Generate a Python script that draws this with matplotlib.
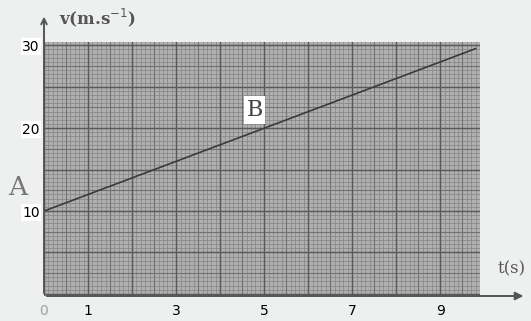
import matplotlib
matplotlib.use("Agg")
import matplotlib.pyplot as plt
import numpy as np

# Data
t_vals = [0.0, 9.8]
v_vals = [10.0, 29.6]
x_tick_vals = [0, 1, 3, 5, 7, 9]
x_tick_labels = ["0", "1", "3", "5", "7", "9"]
y_tick_vals = [10, 20, 30]
y_tick_labels = ["10", "20", "30"]

fig = plt.figure(figsize=(5.31, 3.21), dpi=100)
fig.patch.set_facecolor("#eef0f0")
ax = fig.add_axes([44/531, 1-296/321, (480-44)/531, (296-42)/321])
ax.set_facecolor("#b0b0b0")
xmax, ymin, ymax = 9.9, -0.25, 30.4
ax.set_xlim(0, xmax)
ax.set_ylim(ymin, ymax)

# graph paper grid
for x in np.arange(0, xmax, 0.1):
    ax.axvline(x, color="#8a8a8a", lw=0.6, zorder=0)
for y in np.arange(0, ymax, 0.5):
    ax.axhline(y, color="#8a8a8a", lw=0.6, zorder=0)
for x in np.arange(0, xmax, 0.5):
    ax.axvline(x, color="#727272", lw=0.8, zorder=0)
for y in np.arange(0, ymax, 2.5):
    ax.axhline(y, color="#727272", lw=0.8, zorder=0)
for x in np.arange(0, xmax, 1.0):
    ax.axvline(x, color="#5a5a5a", lw=1.0, zorder=0)
for y in np.arange(0, ymax, 5):
    ax.axhline(y, color="#5a5a5a", lw=1.0, zorder=0)

ax.plot(t_vals, v_vals, color="#3a3a3a", lw=1.2, zorder=3)

for s in ax.spines.values():
    s.set_visible(False)

ax.set_xticks(x_tick_vals)
ax.set_xticklabels(x_tick_labels, fontsize=10, fontfamily="DejaVu Sans")
ax.get_xticklabels()[0].set_color("#a0a0a0")
ax.set_yticks(y_tick_vals)
ax.set_yticklabels(y_tick_labels, fontsize=10, fontfamily="DejaVu Sans")
for lab in ax.get_yticklabels():
    lab.set_bbox(dict(facecolor="white", edgecolor="none", pad=1))
ax.tick_params(length=0, pad=3)
ax.tick_params(axis="x", pad=6)

# axes arrows
ax.annotate("", xy=(10.95, ymin), xytext=(0, ymin), xycoords="data",
            arrowprops=dict(arrowstyle="-|>", color="#555555", lw=1.4, mutation_scale=12),
            annotation_clip=False)
ax.annotate("", xy=(0, 33.8), xytext=(0, ymin), xycoords="data",
            arrowprops=dict(arrowstyle="->", color="#555555", lw=1.4, mutation_scale=10),
            annotation_clip=False)

ax.text(0.35, 33.3, "v(m.s$^{-1}$)", fontsize=12, fontfamily="DejaVu Serif",
        fontweight="bold", color="#555555", va="center", ha="left", clip_on=False)
ax.text(10.3, 3.0, "t(s)", fontsize=12, fontfamily="DejaVu Serif",
        color="#555555", va="center", ha="left", clip_on=False)
ax.text(-0.6, 12.8, "A", fontsize=19, fontfamily="DejaVu Serif",
        color="#777777", va="center", ha="center", clip_on=False)
ax.text(4.78, 22.2, "B", fontsize=16, fontfamily="DejaVu Serif",
        color="#444444", va="center", ha="center", zorder=5,
        bbox=dict(facecolor="white", edgecolor="none", pad=2))

fig.savefig("out.png", dpi=100, facecolor=fig.get_facecolor())
